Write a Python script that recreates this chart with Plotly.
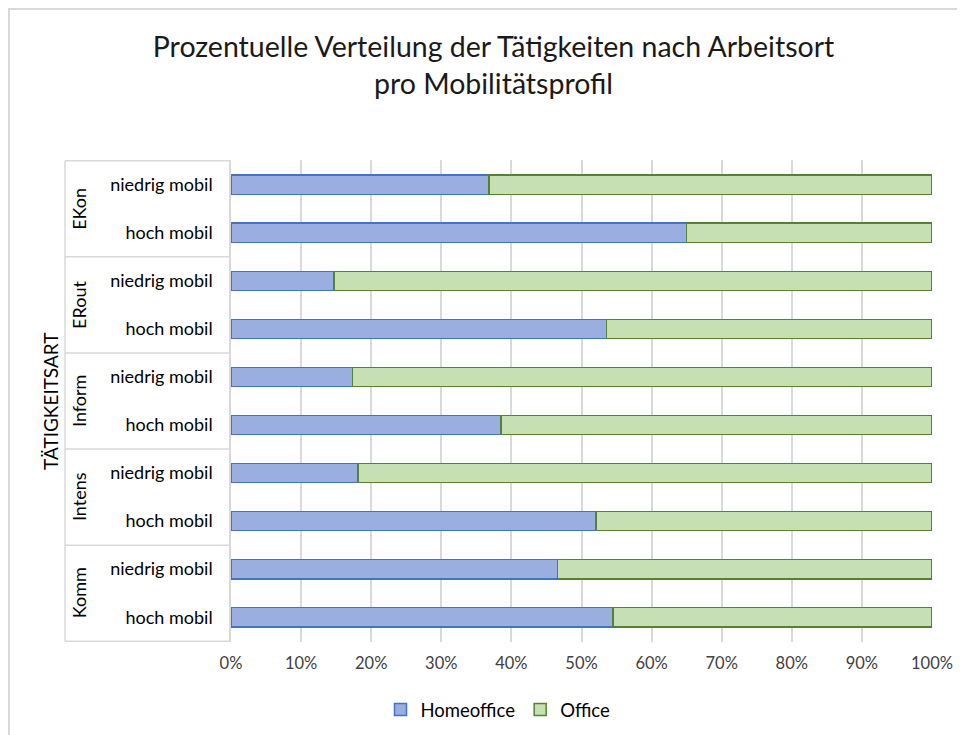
import plotly.graph_objects as go

groups = ["EKon", "ERout", "Inform", "Intens", "Komm"]
profiles = ["niedrig mobil", "hoch mobil"]
homeoffice = [36.8, 65.0, 14.7, 53.6, 17.3, 38.5, 18.1, 52.1, 46.6, 54.5]
office = [63.2, 35.0, 85.3, 46.4, 82.7, 61.5, 81.9, 47.9, 53.4, 45.5]
x_ticks = [0, 10, 20, 30, 40, 50, 60, 70, 80, 90, 100]

cat_ids = [f"{g} | {p}" for g in groups for p in profiles]
cat_labels = [p for g in groups for p in profiles]

FONT = "Lato"
TXT = "#404040"

# figure-pixel geometry (page body adds an 8px offset)
W, H = 957, 727
L, T = 223, 152
PW, PH = 701, 482


def px(xf):
    return (xf - L) / PW


def py(yf):
    return (T + PH - yf) / PH


fig = go.Figure()
fig.add_trace(go.Bar(
    y=cat_ids, x=homeoffice, name="Homeoffice", orientation="h",
    marker=dict(color="#9AAEE0", line=dict(color="#4472C4", width=1.5)),
))
fig.add_trace(go.Bar(
    y=cat_ids, x=office, name="Office", orientation="h",
    marker=dict(color="#C6E0B4", line=dict(color="#548235", width=1.5)),
))

shapes = []
# outer chart border
shapes.append(dict(type="rect", xref="paper", yref="paper",
                   x0=px(1), x1=px(W + 20), y0=py(H + 20), y1=py(1),
                   line=dict(color="#D9D9D9", width=2), layer="below"))
box_x0 = px(57)
for k in range(len(groups) + 1):
    yv = -0.5 + 2 * k
    shapes.append(dict(type="line", xref="paper", yref="y",
                       x0=box_x0, x1=0, y0=yv, y1=yv,
                       line=dict(color="#D9D9D9", width=1.5)))
shapes.append(dict(type="line", xref="paper", yref="y",
                   x0=box_x0, x1=box_x0, y0=-0.5, y1=len(cat_ids) - 0.5,
                   line=dict(color="#D9D9D9", width=1.5)))

annotations = []
for i, g in enumerate(groups):
    annotations.append(dict(text=g, xref="paper", yref="y",
                            x=px(71), y=2 * i + 0.5,
                            xanchor="center", yanchor="middle",
                            textangle=-90, showarrow=False,
                            font=dict(family=FONT, size=18, color="#000000")))
annotations.append(dict(text="TÄTIGKEITSART", xref="paper", yref="paper",
                        x=px(42), y=0.5, xanchor="center", yanchor="middle",
                        textangle=-90, showarrow=False,
                        font=dict(family=FONT, size=19, color="#000000")))

fig.update_layout(
    width=W, height=H,
    margin=dict(l=L, r=W - L - PW, t=T, b=H - T - PH),
    paper_bgcolor="white", plot_bgcolor="white",
    barmode="stack", bargap=0.6,
    font=dict(family=FONT, size=16, color=TXT),
    title=dict(text="Prozentuelle Verteilung der Tätigkeiten nach Arbeitsort<br>pro Mobilitätsprofil",
               x=485.5 / W, xanchor="center", y=1 - 49 / H, yanchor="middle",
               font=dict(family=FONT, size=28.5, color="#1a1a1a")),
    xaxis=dict(range=[0, 100], tickvals=x_ticks, ticktext=[f"{v}%" for v in x_ticks],
               showgrid=True, gridcolor="#D9D9D9", gridwidth=1.5, zeroline=False,
               showline=False, ticks="outside", ticklen=6, tickcolor="rgba(0,0,0,0)",
               tickfont=dict(family=FONT, size=16.5, color=TXT), fixedrange=True,
               automargin=False),
    yaxis=dict(type="category", categoryorder="array", categoryarray=cat_ids,
               autorange="reversed", tickvals=cat_ids, ticktext=cat_labels,
               showgrid=False, showline=True, linecolor="#D9D9D9", linewidth=1.5,
               ticks="outside", ticklen=13, tickcolor="rgba(0,0,0,0)",
               tickfont=dict(family=FONT, size=18, color="#000000"),
               automargin=False),
    legend=dict(orientation="h", xref="paper", x=px(490), xanchor="center",
                yref="container", y=1 - 702 / H, yanchor="middle",
                font=dict(family=FONT, size=18.5, color="#000000"),
                traceorder="normal", itemwidth=30),
    shapes=shapes, annotations=annotations,
    showlegend=True,
)

fig.write_html("out.html")
